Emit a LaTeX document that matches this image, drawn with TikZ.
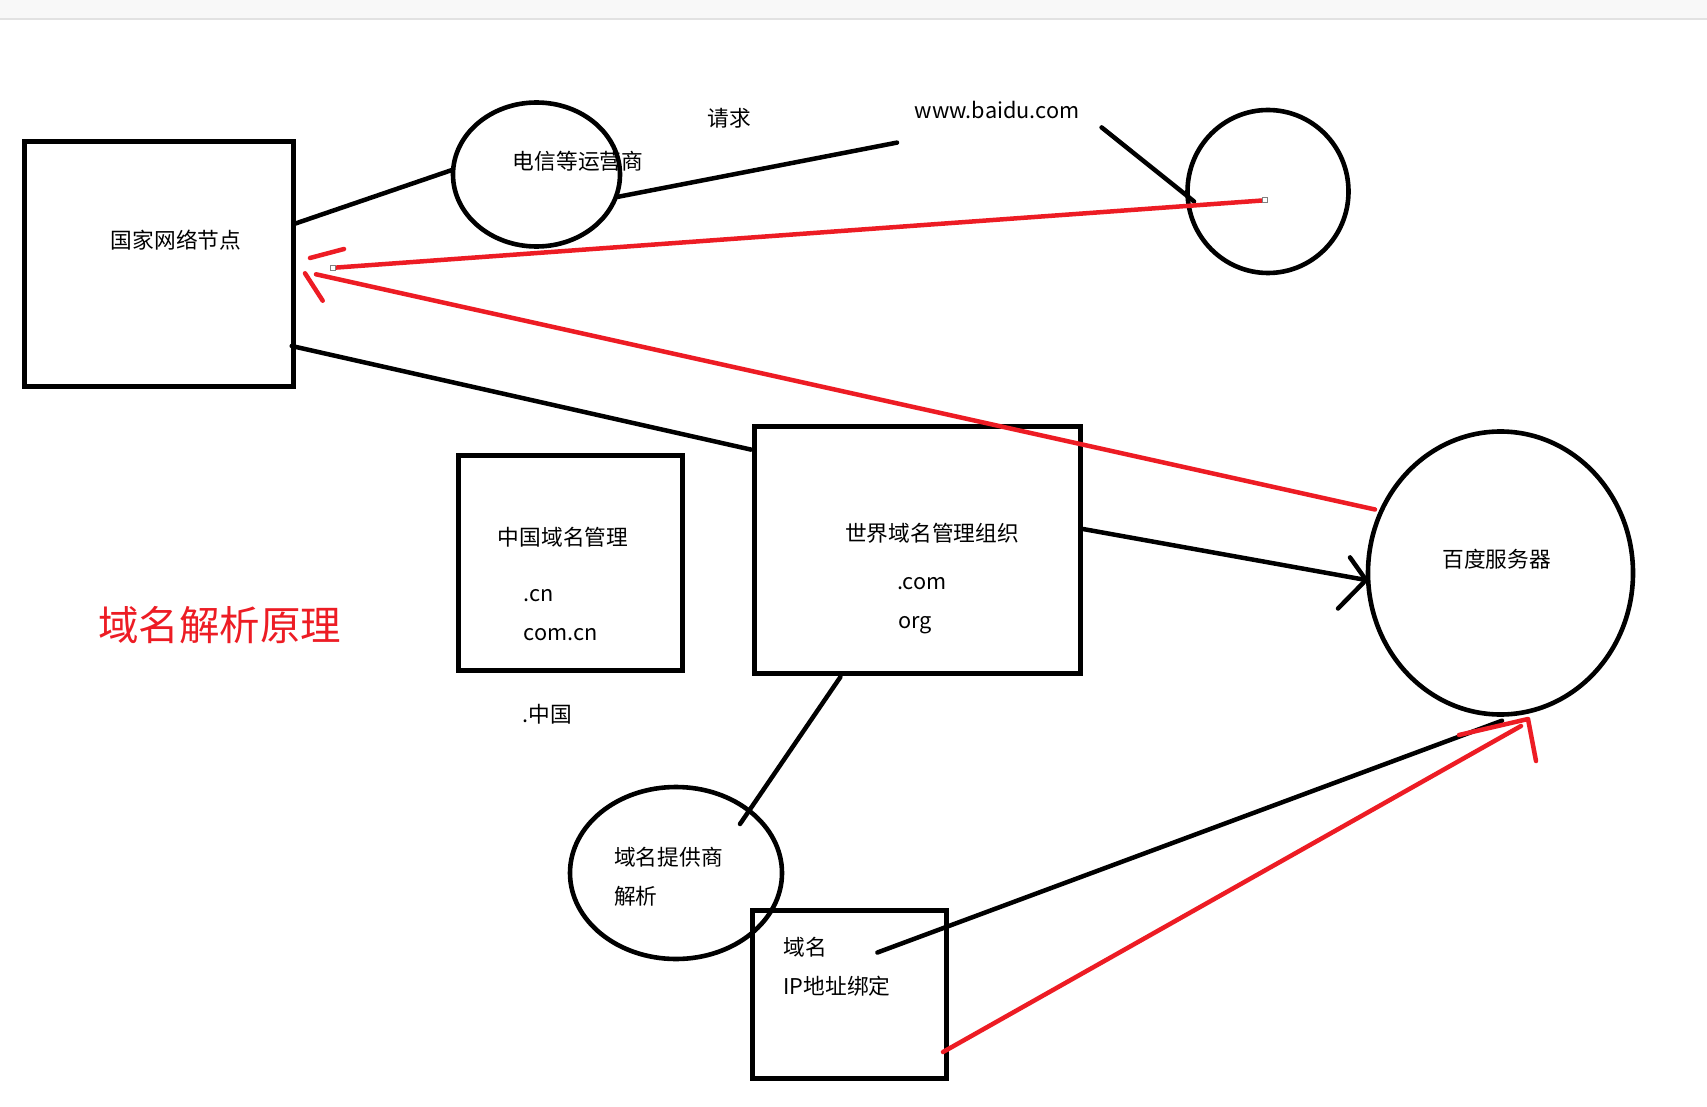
\documentclass[tikz,border=0pt]{standalone}
\usepackage{fontspec}
\setmainfont{Noto Sans CJK SC}
\usetikzlibrary{shapes.geometric}
\definecolor{redline}{HTML}{ED1C24}
\definecolor{barfill}{HTML}{F8F8F8}
\definecolor{barline}{HTML}{E2E2E2}
\begin{document}
\begin{tikzpicture}[x=1pt,y=-1pt,
  shapebox/.style={draw=black, rectangle, line width=5pt, inner sep=0pt},
  oval/.style={draw=black, ellipse, line width=4.6pt, inner sep=0pt},
  txt/.style={inner sep=0pt, font=\fontsize{21.7}{26}\selectfont},
  link/.style={draw=black, line width=4.5pt, line cap=round},
  redlink/.style={draw=redline, line width=4.5pt, line cap=round},
  handle/.style={draw=gray, fill=white, line width=0.8pt, minimum size=5pt, inner sep=0pt}]
\useasboundingbox (0,0) rectangle (1707,1107);
\fill[white] (0,0) rectangle (1707,1107);
\fill[barfill] (0,0) rectangle (1707,18);
\draw[barline, line width=2pt] (0,19) -- (1707,19);

% shapes
\node[shapebox, minimum width=269pt, minimum height=245pt] (A) at (158.5,264) {};
\node[oval, minimum width=167pt, minimum height=144pt] (B) at (536.5,174.5) {};
\node[oval, minimum width=161pt, minimum height=163pt] (C) at (1268,191.5) {};
\node[shapebox, minimum width=224.5pt, minimum height=215.6pt] (D) at (570.25,562.8) {};
\node[shapebox, minimum width=325.6pt, minimum height=247.1pt] (E) at (917.2,550.25) {};
\node[oval, minimum width=265pt, minimum height=283pt] (F) at (1500.5,573) {};
\node[oval, minimum width=212pt, minimum height=172pt] (G) at (676,873) {};
\node[shapebox, minimum width=194.4pt, minimum height=168.5pt] (H) at (849.5,994.25) {};

% texts
\node[txt, anchor=base] (At) at (176,249) {国家网络节点};
\node[txt, anchor=base] (Bt) at (578,169.5) {电信等运营商};
\node[txt, anchor=base] (req) at (729,127) {请求};
\node[txt, anchor=base] (url) at (997,118.5) {www.baidu.com};
\node[txt, anchor=base] (Dt1) at (563,545.4) {中国域名管理};
\node[txt, anchor=base west] (Dt2) at (523.6,601) {.cn};
\node[txt, anchor=base west] (Dt3) at (523.6,640.5) {com.cn};
\node[txt, anchor=base west] (zh) at (522.5,722.5) {.中国};
\node[txt, anchor=base] (Et1) at (932,541.5) {世界域名管理组织};
\node[txt, anchor=base west] (Et2) at (897,589) {.com};
\node[txt, anchor=base west] (Et3) at (898,628.5) {org};
\node[txt, anchor=base] (Ft) at (1496.7,567.5) {百度服务器};
\node[txt, anchor=base west] (Gt1) at (614,865.5) {域名提供商};
\node[txt, anchor=base west] (Gt2) at (614,904.8) {解析};
\node[txt, anchor=base west] (Ht1) at (783.3,955.5) {域名};
\node[txt, anchor=base west] (Ht2) at (783.3,994.8) {IP地址绑定};
\node[inner sep=0pt, anchor=base, text=redline, font=\fontsize{40.5}{48}\selectfont] (title) at (219.5,640) {域名解析原理};

% connector end points
\coordinate (a1) at (294,224);
\coordinate (b1) at (452,170);
\coordinate (b2) at (617,197);
\coordinate (q1) at (897,142.6);
\coordinate (u1) at (1101.6,127.4);
\coordinate (c1) at (1194,201.4);
\coordinate (r1) at (1265,200.3);
\coordinate (r2) at (333,267.8);
\coordinate (r3) at (316,274.3);
\coordinate (r4) at (1375,509.5);
\coordinate (a2) at (291.7,346);
\coordinate (e1) at (751,449.6);
\coordinate (e2) at (1083,529);
\coordinate (f1) at (1366,580);
\coordinate (e3) at (840.4,677);
\coordinate (g1) at (740,824);
\coordinate (h1) at (877.4,952.5);
\coordinate (f2) at (1502,720.7);
\coordinate (h2) at (943,1052);
\coordinate (f3) at (1521,726);
\coordinate (f3tip) at (1528,719);

% black connectors
\draw[link] (a1) -- (b1);
\draw[link] (b2) -- (q1);
\draw[link] (u1) -- (c1);
\draw[link] (a2) -- (e1);
\draw[link] (e2) -- (f1);
\draw[link] (1350,557.4) -- (f1) -- (1338,608.5);
\draw[link] (e3) -- (g1);
\draw[link] (h1) -- (f2);

% red connectors
\draw[redlink] (r1) -- (r2);
\draw[redlink] (310,258) -- (344,249);
\draw[redlink] (305,273.3) -- (322.7,300.7);
\draw[redlink] (r3) -- (r4);
\draw[redlink] (h2) -- (f3);
\draw[redlink, line join=round] (1459,735) -- (f3tip) -- (1536,761);

% selection handles
\node[handle] (hd1) at (r1) {};
\node[handle] (hd2) at (r2) {};
\end{tikzpicture}
\end{document}
